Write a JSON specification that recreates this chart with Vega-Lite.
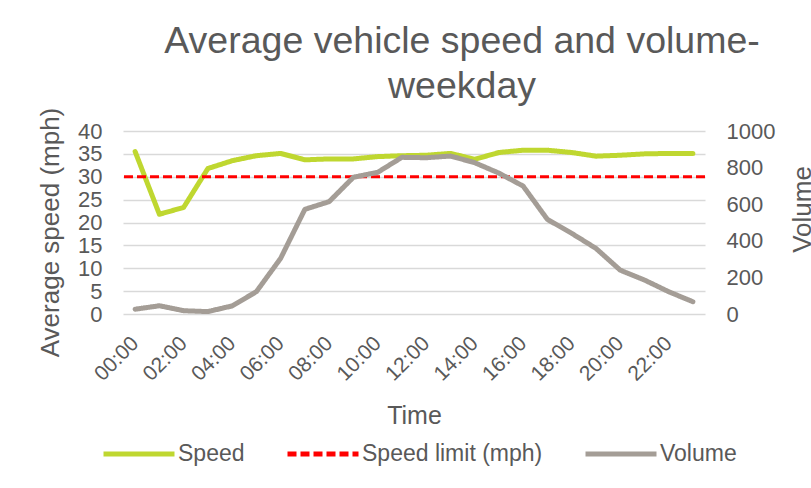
{
  "$schema": "https://vega.github.io/schema/vega-lite/v6.json",
  "width": 582,
  "height": 183,
  "autosize": "none",
  "padding": {"left": 123, "top": 131, "right": 106, "bottom": 174},
  "background": "white",
  "title": {
    "text": ["Average vehicle speed and volume-", "weekday"],
    "fontSize": 37.5,
    "font": "Liberation Sans",
    "fontWeight": "normal",
    "color": "#595959",
    "anchor": "middle",
    "dx": 48,
    "lineHeight": 45,
    "offset": 2
  },
  "data": {
    "values": [
      {"time": "00:00", "series": "Speed", "value": 35.5},
      {"time": "01:00", "series": "Speed", "value": 21.8},
      {"time": "02:00", "series": "Speed", "value": 23.3},
      {"time": "03:00", "series": "Speed", "value": 31.8},
      {"time": "04:00", "series": "Speed", "value": 33.5},
      {"time": "05:00", "series": "Speed", "value": 34.6},
      {"time": "06:00", "series": "Speed", "value": 35.1},
      {"time": "07:00", "series": "Speed", "value": 33.7},
      {"time": "08:00", "series": "Speed", "value": 33.9},
      {"time": "09:00", "series": "Speed", "value": 33.9},
      {"time": "10:00", "series": "Speed", "value": 34.4},
      {"time": "11:00", "series": "Speed", "value": 34.6},
      {"time": "12:00", "series": "Speed", "value": 34.7},
      {"time": "13:00", "series": "Speed", "value": 35.1},
      {"time": "14:00", "series": "Speed", "value": 33.8},
      {"time": "15:00", "series": "Speed", "value": 35.3},
      {"time": "16:00", "series": "Speed", "value": 35.8},
      {"time": "17:00", "series": "Speed", "value": 35.8},
      {"time": "18:00", "series": "Speed", "value": 35.3},
      {"time": "19:00", "series": "Speed", "value": 34.5},
      {"time": "20:00", "series": "Speed", "value": 34.7},
      {"time": "21:00", "series": "Speed", "value": 35.0},
      {"time": "22:00", "series": "Speed", "value": 35.1},
      {"time": "23:00", "series": "Speed", "value": 35.1},
      {"time": "00:00", "series": "Volume", "value": 26},
      {"time": "01:00", "series": "Volume", "value": 45},
      {"time": "02:00", "series": "Volume", "value": 18},
      {"time": "03:00", "series": "Volume", "value": 13},
      {"time": "04:00", "series": "Volume", "value": 44},
      {"time": "05:00", "series": "Volume", "value": 122},
      {"time": "06:00", "series": "Volume", "value": 304},
      {"time": "07:00", "series": "Volume", "value": 572},
      {"time": "08:00", "series": "Volume", "value": 614},
      {"time": "09:00", "series": "Volume", "value": 747},
      {"time": "10:00", "series": "Volume", "value": 774},
      {"time": "11:00", "series": "Volume", "value": 856},
      {"time": "12:00", "series": "Volume", "value": 854},
      {"time": "13:00", "series": "Volume", "value": 863},
      {"time": "14:00", "series": "Volume", "value": 827},
      {"time": "15:00", "series": "Volume", "value": 770},
      {"time": "16:00", "series": "Volume", "value": 699},
      {"time": "17:00", "series": "Volume", "value": 517},
      {"time": "18:00", "series": "Volume", "value": 441},
      {"time": "19:00", "series": "Volume", "value": 359},
      {"time": "20:00", "series": "Volume", "value": 240},
      {"time": "21:00", "series": "Volume", "value": 186},
      {"time": "22:00", "series": "Volume", "value": 122},
      {"time": "23:00", "series": "Volume", "value": 67},
      {"series": "Speed limit (mph)", "value": 30}
    ]
  },
  "layer": [
    {
      "encoding": {
        "y": {
          "field": "value", "type": "quantitative",
          "scale": {"domain": [0, 40], "nice": false},
          "axis": {
            "orient": "left",
            "title": "Average speed (mph)",
            "values": [0, 5, 10, 15, 20, 25, 30, 35, 40],
            "labelOverlap": false,
            "grid": true,
            "gridColor": "#d9d9d9",
            "gridWidth": 1.5,
            "labelPadding": 21,
            "titleFontSize": 26,
            "titleAngle": -90,
            "titleBaseline": "alphabetic",
            "titleAlign": "center",
            "titleX": -65,
            "titleY": 101
          }
        },
        "color": {"field": "series", "type": "nominal", "scale": {"domain": ["Speed", "Speed limit (mph)", "Volume"], "range": ["#bfd730", "#ff0000", "#a49d96"]}},
        "strokeDash": {"field": "series", "type": "nominal", "scale": {"domain": ["Speed", "Speed limit (mph)", "Volume"], "range": [[1, 0], [9, 4], [1, 0]]}}
      },
      "layer": [
        {
          "transform": [{"filter": "datum.series === 'Speed'"}],
          "mark": {"type": "line", "strokeWidth": 5, "strokeCap": "round", "strokeJoin": "round"},
          "encoding": {
            "x": {
              "field": "time", "type": "ordinal", "sort": null,
              "scale": {"type": "point", "padding": 0.5},
              "axis": {
                "title": "Time",
                "values": ["00:00", "02:00", "04:00", "06:00", "08:00", "10:00", "12:00", "14:00", "16:00", "18:00", "20:00", "22:00"],
                "labelAngle": -45,
                "labelAlign": "right",
                "labelBaseline": "middle",
                "labelFontSize": 21,
                "labelPadding": 26,
                "labelOverlap": false,
                "grid": false,
                "titleBaseline": "alphabetic",
                "titleY": 109
              }
            }
          }
        },
        {
          "transform": [{"filter": "datum.series === 'Speed limit (mph)'"}],
          "mark": {"type": "rule", "strokeWidth": 3},
          "encoding": {}
        }
      ]
    },
    {
      "transform": [{"filter": "datum.series === 'Volume'"}],
      "mark": {"type": "line", "strokeWidth": 5, "strokeCap": "round", "strokeJoin": "round"},
      "encoding": {
        "x": {"field": "time", "type": "ordinal", "sort": null},
        "y": {
          "field": "value", "type": "quantitative",
          "scale": {"domain": [0, 1000], "nice": false},
          "axis": {
            "orient": "right",
            "title": "Volume",
            "format": "d",
            "values": [0, 200, 400, 600, 800, 1000],
            "labelOverlap": false,
            "grid": false,
            "labelPadding": 21,
            "titleFontSize": 26,
            "titleAngle": -90,
            "titleBaseline": "alphabetic",
            "titleAlign": "center",
            "titleX": 105,
            "titleY": 78
          }
        },
        "color": {"field": "series", "type": "nominal"},
        "strokeDash": {"field": "series", "type": "nominal"}
      }
    }
  ],
  "resolve": {"scale": {"y": "independent"}},
  "config": {
    "font": "Liberation Sans",
    "view": {"stroke": null},
    "axis": {
      "labelColor": "#595959",
      "titleColor": "#595959",
      "labelFontSize": 22,
      "titleFontSize": 25,
      "titleFontWeight": "normal",
      "ticks": false,
      "domain": false
    },
    "legend": {
      "orient": "none",
      "legendX": -22,
      "legendY": 285,
      "direction": "horizontal",
      "title": null,
      "labelFontSize": 23,
      "labelColor": "#595959",
      "labelLimit": 400,
      "symbolType": "stroke",
      "symbolSize": 5041,
      "symbolStrokeWidth": 5,
      "labelOffset": 1,
      "columnPadding": 32
    }
  }
}
